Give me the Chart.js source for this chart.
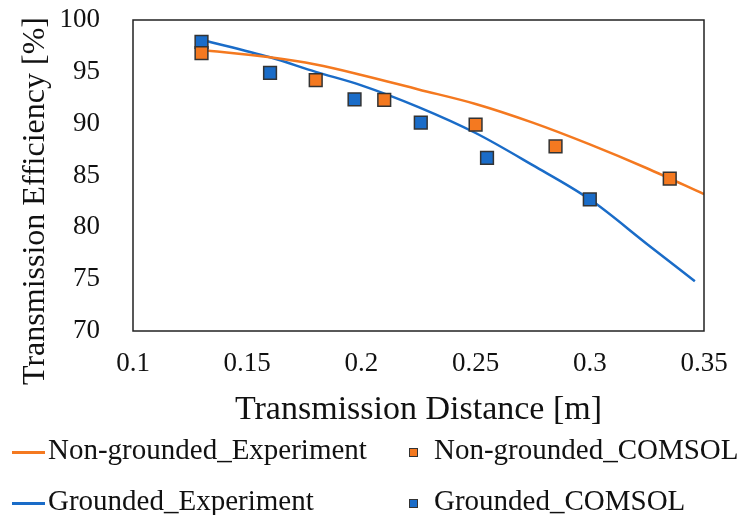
<!DOCTYPE html>
<html lang="en">
<head>
    <meta charset="UTF-8">
    <title>Transmission Efficiency vs Distance</title>
    <script src="https://cdn.jsdelivr.net/npm/chart.js"></script>
    <style>
        body {
            margin: 0;
            background: #fff;
            font-family: "Liberation Serif", "Times New Roman", serif;
        }
        #wrap {
            position: relative;
            width: 747px;
            height: 515px;
        }
        .legend {
            position: absolute;
            font-size: 29px;
            color: #111;
            white-space: nowrap;
            line-height: 1;
        }
        .legend .line {
            display: inline-block;
            width: 33px;
            height: 2.5px;
            vertical-align: middle;
            margin-right: 3px;
        }
        .legend .box {
            display: inline-block;
            width: 7px;
            height: 7px;
            border: 1px solid #333;
            vertical-align: middle;
            margin-right: 16px;
        }
    </style>
</head>
<body>
<div id="wrap">
    <canvas id="chart" width="747" height="515"></canvas>
    <div class="legend" style="left:12px; top:435px;"><span class="line" style="background:#f47920"></span>Non-grounded_Experiment</div>
    <div class="legend" style="left:409px; top:435px;"><span class="box" style="background:#f47920"></span>Non-grounded_COMSOL</div>
    <div class="legend" style="left:12px; top:486px;"><span class="line" style="background:#1a6cc8"></span>Grounded_Experiment</div>
    <div class="legend" style="left:409px; top:486px;"><span class="box" style="background:#1a6cc8"></span>Grounded_COMSOL</div>
</div>

<script>
    // experiment curves
    const nonGroundedExpX = [0.13, 0.16, 0.18, 0.2, 0.225, 0.25, 0.275, 0.3, 0.325, 0.35];
    const nonGroundedExpY = [97.1, 96.4, 95.7, 94.7, 93.3, 91.9, 90.1, 88.0, 85.7, 83.2];
    const groundedExpX = [0.13, 0.16, 0.18, 0.2, 0.225, 0.25, 0.275, 0.3, 0.325, 0.346];
    const groundedExpY = [98.1, 96.4, 95.0, 93.7, 91.6, 89.1, 86.0, 82.7, 78.4, 74.8];

    // COMSOL points
    const nonGroundedSimX = [0.13, 0.18, 0.21, 0.25, 0.285, 0.335];
    const nonGroundedSimY = [96.8, 94.2, 92.3, 89.9, 87.8, 84.7];
    const groundedSimX = [0.13, 0.16, 0.197, 0.226, 0.255, 0.3];
    const groundedSimY = [97.9, 94.9, 92.35, 90.1, 86.7, 82.7];

    const orange = '#f47920';
    const blue = '#1a6cc8';
    const yTitle = 'Transmission Efficiency [%]';

    const toXY = (xs, ys) => xs.map((x, i) => ({ x: x, y: ys[i] }));

    // frame round the plot area + the y title (sits a bit lower than centre in the original)
    const frame = {
        id: 'frame',
        afterDraw(chart) {
            const a = chart.chartArea;
            const ctx = chart.ctx;
            ctx.save();
            ctx.strokeStyle = '#222';
            ctx.lineWidth = 1.5;
            ctx.strokeRect(a.left, a.top, a.right - a.left, a.bottom - a.top);

            ctx.translate(36, 201);
            ctx.rotate(-Math.PI / 2);
            ctx.fillStyle = '#111';
            ctx.font = '32px "Liberation Serif"';
            ctx.textAlign = 'center';
            ctx.textBaseline = 'middle';
            ctx.fillText(yTitle, 0, 0);
            ctx.restore();
        }
    };

    new Chart(document.getElementById('chart'), {
        type: 'scatter',
        data: {
            datasets: [
                {
                    label: 'Non-grounded_COMSOL',
                    data: toXY(nonGroundedSimX, nonGroundedSimY),
                    pointStyle: 'rect',
                    pointRadius: 9,
                    backgroundColor: orange,
                    borderColor: '#333',
                    borderWidth: 1.5
                },
                {
                    label: 'Grounded_COMSOL',
                    data: toXY(groundedSimX, groundedSimY),
                    pointStyle: 'rect',
                    pointRadius: 9,
                    backgroundColor: blue,
                    borderColor: '#333',
                    borderWidth: 1.5
                },
                {
                    label: 'Non-grounded_Experiment',
                    type: 'line',
                    data: toXY(nonGroundedExpX, nonGroundedExpY),
                    borderColor: orange,
                    borderWidth: 2.5,
                    pointRadius: 0,
                    cubicInterpolationMode: 'monotone',
                    fill: false
                },
                {
                    label: 'Grounded_Experiment',
                    type: 'line',
                    data: toXY(groundedExpX, groundedExpY),
                    borderColor: blue,
                    borderWidth: 2.5,
                    pointRadius: 0,
                    cubicInterpolationMode: 'monotone',
                    fill: false
                }
            ]
        },
        options: {
            responsive: false,
            animation: false,
            layout: {
                padding: { left: 0, top: 20, right: 43, bottom: 81 }
            },
            plugins: {
                legend: { display: false },
                tooltip: { enabled: false }
            },
            scales: {
                x: {
                    type: 'linear',
                    min: 0.1,
                    max: 0.35,
                    ticks: {
                        stepSize: 0.05,
                        padding: 9,
                        color: '#111',
                        font: { family: 'Liberation Serif', size: 27 },
                        callback: v => String(Number(v.toFixed(2)))
                    },
                    grid: { display: false },
                    border: { display: false },
                    title: {
                        display: true,
                        text: 'Transmission Distance [m]',
                        color: '#111',
                        font: { family: 'Liberation Serif', size: 34 }
                    },
                    afterFit: s => { s.height = 103; }
                },
                y: {
                    min: 70,
                    max: 100,
                    ticks: {
                        stepSize: 5,
                        padding: 25,
                        color: '#111',
                        font: { family: 'Liberation Serif', size: 27 }
                    },
                    grid: { display: false },
                    border: { display: false },
                    afterFit: s => {
                        s.width = 133;
                        s.paddingTop = 0;
                        s.paddingBottom = 0;
                    }
                }
            }
        },
        plugins: [frame]
    });
</script>
</body>
</html>
